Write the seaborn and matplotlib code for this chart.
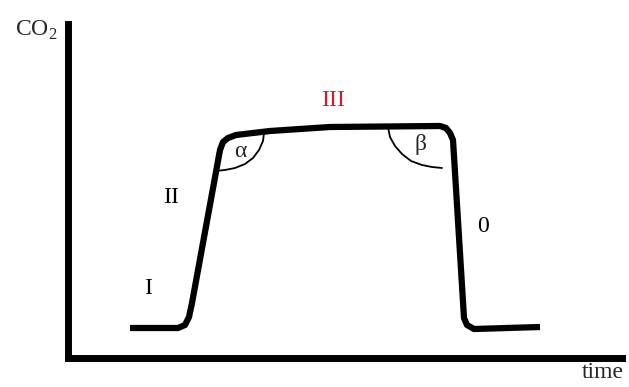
import pandas as pd
import seaborn as sns
import matplotlib.pyplot as plt

# capnogram curve (time units, CO2 units)
time = [62, 110, 117, 121, 124, 152, 155, 160, 168, 202, 262, 372, 378, 382, 385, 396, 399, 406, 472]
co2 = [30, 30, 33, 41, 55, 208, 216, 220, 223, 227, 231, 232, 230, 225, 218, 40, 33, 29, 31]

# angle arcs
alpha_t = [147, 157, 167, 177, 185, 191, 195, 196]
alpha_c = [187, 188, 190, 194, 200, 208, 217, 225]
beta_t = [320, 322, 327, 334, 343, 354, 364, 374]
beta_c = [231, 221, 212, 204, 197, 193, 191, 190]

# phase labels
phase_labels = ["I", "II", "III", "0"]
phase_t = [80, 103, 265, 415]
phase_c = [70, 160, 257, 131]
phase_colors = ["black", "black", "#c8202c", "black"]

sns.set_style("white")
plt.rcParams["font.family"] = ["Liberation Serif", "DejaVu Serif"]
plt.rcParams["mathtext.fontset"] = "custom"
plt.rcParams["mathtext.rm"] = "Liberation Serif"

fig = plt.figure(figsize=(6.29, 3.87), dpi=100)
ax = fig.add_axes([68 / 629, 29 / 387, 554 / 629, 334 / 387])

curve = pd.DataFrame({"time": time, "co2": co2})
sns.lineplot(data=curve, x="time", y="co2", sort=False, color="black",
             linewidth=4.5, ax=ax, solid_joinstyle="round", solid_capstyle="butt")
sns.lineplot(x=alpha_t, y=alpha_c, sort=False, color="black", linewidth=1.3, ax=ax)
sns.lineplot(x=beta_t, y=beta_c, sort=False, color="black", linewidth=1.3, ax=ax)

for lab, t, c, col in zip(phase_labels, phase_t, phase_c, phase_colors):
    ax.text(t, c, lab, color=col, fontsize=17, ha="center", va="center")
ax.text(172, 206, "α", fontsize=17, ha="center", va="center")
ax.text(352, 213, "β", fontsize=17, ha="center", va="center")

ax.set_xlim(0, 554)
ax.set_ylim(0, 334)
ax.set_xticks([])
ax.set_yticks([])
ax.set_xlabel("")
ax.set_ylabel("")
sns.despine(ax=ax)
for side in ["left", "bottom"]:
    ax.spines[side].set_linewidth(5)
    ax.spines[side].set_color("black")
    ax.spines[side].set_capstyle("projecting")

fig.text(36 / 629, 1 - 30 / 387, r"CO$_\mathrm{2}$", fontsize=17, ha="center", va="center")
fig.text(603 / 629, 1 - 373 / 387, "time", fontsize=17, ha="center", va="center")

fig.savefig("out.png", dpi=100)
